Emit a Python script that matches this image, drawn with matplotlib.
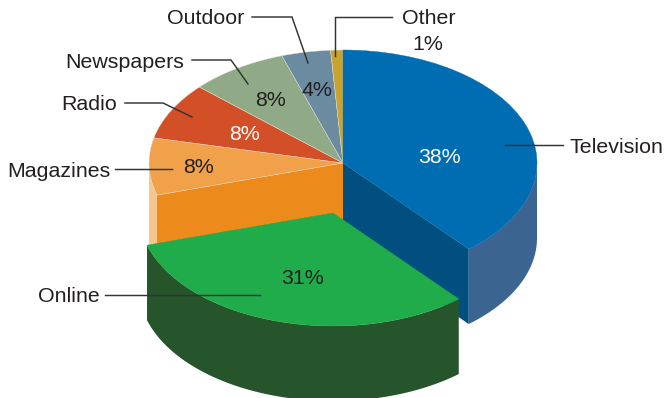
import matplotlib
matplotlib.use('Agg')
import matplotlib.pyplot as plt
import numpy as np

plt.rcParams['font.family'] = ['Liberation Sans', 'DejaVu Sans']

# Data
labels = ['Television', 'Online', 'Magazines', 'Radio', 'Newspapers', 'Outdoor', 'Other']
values = [38, 31, 8, 8, 8, 4, 1]
top_colors = ['#006CB2', '#20AC4B', '#F0A14A', '#D24F27', '#90AA87', '#6B8BA0', '#C7A432']

W, H = 666, 398
CX, CY, RX, RY = 343, 163, 194, 113
DEPTH = 75 / RY
ONLINE_SHIFT = (-10 / RX, -50 / RY)


def px(x, y):
    # picture pixels to pie units
    return (x - CX) / RX, (CY - y) / RY


def wall(ax, a0, a1, color, dx=0, dy=0):
    t = np.radians(np.linspace(a0, a1, 120))
    xs = dx + np.cos(t)
    ys = dy + np.sin(t)
    ax.fill(np.r_[xs, xs[::-1]], np.r_[ys, ys[::-1] - DEPTH], color=color, lw=0, zorder=2)


def face(ax, angle, color):
    c, s = np.cos(np.radians(angle)), np.sin(np.radians(angle))
    ax.fill([0, c, c, 0], [0, s, s - DEPTH, -DEPTH], color=color, lw=0, zorder=1)


fig = plt.figure(figsize=(W / 100, H / 100), dpi=100)
ax = fig.add_axes([0, 0, 1, 1])

wedges, _ = ax.pie(values, colors=top_colors, startangle=90, counterclock=False, radius=1,
                   wedgeprops=dict(edgecolor='#E8E4D8', linewidth=0.3))
ax.set_aspect('auto')
x0, y1 = px(0, 0)
x1, y0 = px(W, H)
ax.set_xlim(x0, x1)
ax.set_ylim(y0, y1)
ax.axis('off')

# angles of the slice edges, clockwise from the top
edges = 90 - np.cumsum([0] + values) / sum(values) * 360
tv_end = edges[1]
online_end = edges[2] + 360

# inside faces left open by the pulled out slice
face(ax, online_end, '#EC8B1B')
face(ax, tv_end, '#014F7F')

# outer walls
wall(ax, tv_end, 0, '#3B6590')
wall(ax, 180, online_end, '#F8C68C')
wall(ax, online_end, tv_end + 360, '#26552B', *ONLINE_SHIFT)

for w, col in zip(wedges, top_colors):
    w.set_zorder(3)
wedges[0].set_edgecolor(top_colors[0])
wedges[1].set_center(ONLINE_SHIFT)
wedges[1].set_edgecolor(top_colors[1])
wedges[0].set_zorder(3.1)
wedges[1].set_zorder(3.2)

# labels and leader lines
line_paths = [
    [(505, 145), (563, 145)],
    [(105, 295), (260, 295)],
    [(115, 169), (172, 169)],
    [(125, 103), (163, 103), (192, 117)],
    [(192, 60), (231, 60), (248, 84)],
    [(252, 17), (292, 17), (308, 63)],
    [(392, 17), (335, 17), (335, 56)],
]
for path in line_paths:
    pts = [px(*p) for p in path]
    ax.plot(*zip(*pts), color='#333333', lw=1.05, zorder=5, solid_joinstyle='miter')

label_pos = [(570, 145), (38, 294), (7, 169), (61, 103), (65, 60), (167, 17), (402, 17)]
for name, pos in zip(labels, label_pos):
    ax.text(*px(*pos), name, fontsize=15.4, color='#231F20', ha='left', va='center_baseline', zorder=6)

pct_pos = [(439, 155), (303, 277), (198, 165), (244, 132), (270, 99), (317, 88), (428, 42)]
pct_color = ['white', '#231F20', '#231F20', 'white', '#231F20', '#231F20', '#231F20']
for v, pos, col in zip(values, pct_pos, pct_color):
    ax.text(*px(*pos), f'{v}%', fontsize=15.4, color=col, ha='center', va='center_baseline', zorder=6)

fig.savefig('out.png', dpi=100, facecolor='white')
